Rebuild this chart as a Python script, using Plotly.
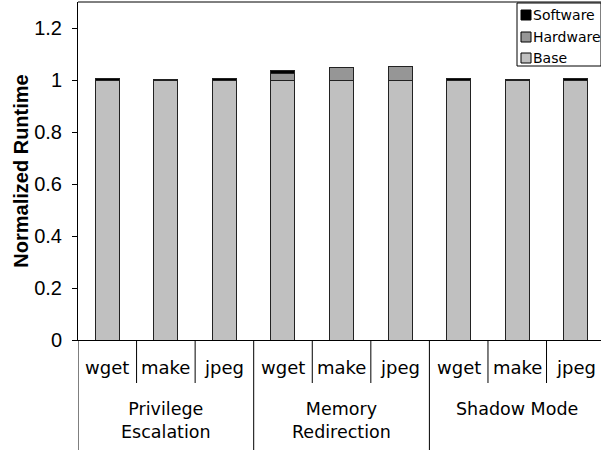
import plotly.graph_objects as go

benchmarks = ["wget", "make", "jpeg"] * 3
groups = ["Privilege<br>Escalation", "Memory<br>Redirection", "Shadow Mode"]
series_names = ["Base", "Hardware", "Software"]
series_colors = ["#C0C0C0", "#969696", "#000000"]
base = [1.0, 1.0, 1.0, 1.0, 1.0, 1.0, 1.0, 1.0, 1.0]
hardware = [0.0, 0.0, 0.0, 0.025, 0.05, 0.052, 0.0, 0.0, 0.0]
software = [0.005, 0.001, 0.004, 0.012, 0.0, 0.0, 0.005, 0.001, 0.004]
y_ticks = [0, 0.2, 0.4, 0.6, 0.8, 1.0, 1.2]
y_tick_text = ["0", "0.2", "0.4", "0.6", "0.8", "1", "1.2"]

W, H = 601, 450
L, T, B, R = 78, 2, 110, 0
pw = W - L - R
ph = H - T - B
def py(pix):
    return (H - B - pix) / ph
def px(pix):
    return (pix - L) / pw

xs = list(range(len(benchmarks)))
fig = go.Figure()
line = dict(color="#222222", width=1)
for name, col, vals in zip(series_names, series_colors, [base, hardware, software]):
    fig.add_trace(go.Bar(x=xs, y=vals, name=name, marker=dict(color=col, line=line), width=0.41,
                         showlegend=False, hoverinfo="skip"))

shapes = []
# top border
shapes.append(dict(type="line", xref="paper", yref="paper", x0=0, x1=1, y0=1, y1=1,
                   line=dict(color="#000", width=1)))
# category separators
for i in range(len(benchmarks) + 1):
    xb = i - 0.5
    bottom = py(450) if i % 3 == 0 else py(383)
    shapes.append(dict(type="line", xref="x", yref="paper", x0=xb, x1=xb, y0=0, y1=bottom,
                       line=dict(color="#000", width=1)))

annotations = []
for i, b in enumerate(benchmarks):
    annotations.append(dict(x=i, y=py(367), xref="x", yref="paper", text=b, showarrow=False,
                            font=dict(family="DejaVu Sans", size=18, color="#000"),
                            xanchor="center", yanchor="middle"))
for g, name in enumerate(groups):
    annotations.append(dict(x=3 * g + 1, y=py(397), xref="x", yref="paper", text=name, showarrow=False,
                            font=dict(family="DejaVu Sans", size=17.5, color="#000"),
                            xanchor="center", yanchor="top"))

# legend box (drawn manually to match the compact original)
shapes.append(dict(type="rect", xref="paper", yref="paper", x0=px(517), x1=px(601), y0=py(66), y1=py(3),
                   line=dict(color="#000", width=1), fillcolor="white"))
legend_rows = [15, 37, 58]
for (name, col), ry in zip(list(zip(series_names, series_colors))[::-1], legend_rows):
    shapes.append(dict(type="rect", xref="paper", yref="paper", x0=px(521), x1=px(531),
                       y0=py(ry + 5), y1=py(ry - 5), line=dict(color="#000", width=1), fillcolor=col))
    annotations.append(dict(x=px(532), y=py(ry), xref="paper", yref="paper", text=name, showarrow=False,
                            font=dict(family="DejaVu Sans", size=14, color="#000"),
                            xanchor="left", yanchor="middle", borderpad=0))

fig.update_layout(
    barmode="stack",
    width=W, height=H,
    margin=dict(l=L, r=R, t=T, b=B),
    paper_bgcolor="white", plot_bgcolor="white",
    showlegend=False,
    xaxis=dict(range=[-0.5, 8.43], showticklabels=False, ticks="", showgrid=False, automargin=False,
               zeroline=False, showline=True, linecolor="#000", linewidth=1),
    yaxis=dict(range=[0, 1.3], tickvals=y_ticks, ticktext=y_tick_text, ticks="outside", ticklen=5,
               tickcolor="#000", showgrid=False, zeroline=False, showline=True, linecolor="#000",
               linewidth=1, automargin=False, ticklabelstandoff=6,
               tickfont=dict(family="Liberation Sans, Arial", size=20, color="#000"),
               title=dict(text="<b>Normalized Runtime</b>",
                          font=dict(family="Liberation Sans, Arial", size=20, color="#000"), standoff=0)),
    shapes=shapes,
    annotations=annotations,
)
fig.write_html("out.html", config={"displayModeBar": False},
               post_script="document.body.style.margin='0';")
